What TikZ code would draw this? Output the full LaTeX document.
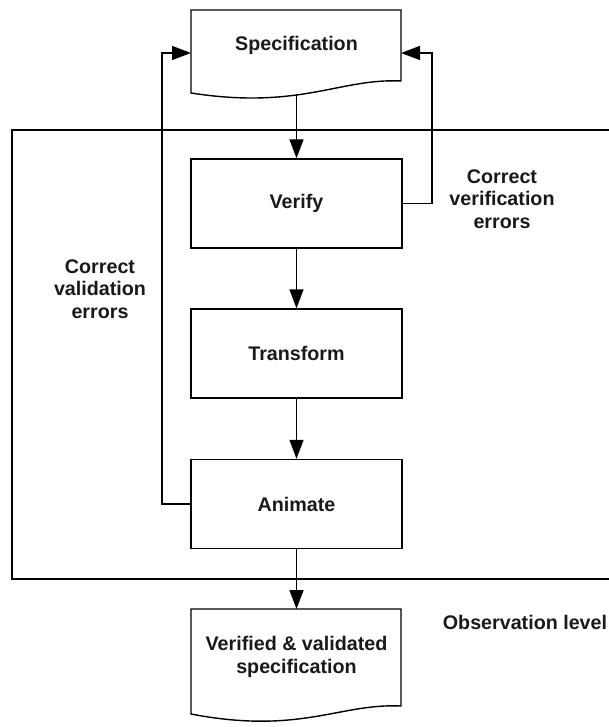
\documentclass[tikz,border=0pt]{standalone}
\usepackage{fontspec}
\setmainfont{Liberation Sans}
\usetikzlibrary{arrows.meta}
\begin{document}
\begin{tikzpicture}[x=1pt,y=-1pt, line width=1.4pt,
  box/.style={draw, minimum width=211pt, minimum height=89pt, inner sep=0pt},
  lbl/.style={font=\bfseries\fontsize{19.7}{22.5}\selectfont, align=center, text=black!90},
  arr/.style={-{Triangle[length=19pt,width=14pt]}},
  ]
\useasboundingbox (0,0) rectangle (609,727);

% outer observation-level frame (open to the right)
\draw (609,130) -- (12,130) -- (12,579) -- (609,579);

% Specification document
\draw[fill=white] (191,10) -- (401,10) -- (401,81)
  .. controls (340,78) and (300,110) .. (191,93) -- cycle;
\node[lbl] (spec) at (296.5,45) {Specification};
\coordinate (specL) at (191,53);
\coordinate (specR) at (401,53);
\coordinate (specB) at (296.5,94);

% process boxes
\node[box,lbl] (verify) at (296.5,203.5) {Verify};
\node[box,lbl] (transform) at (296.5,353.5) {Transform};
\node[box,lbl] (animate) at (296.5,504) {Animate};

% result document
\draw[fill=white] (191,609) -- (401,609) -- (401,706)
  .. controls (340,703) and (300,735) .. (191,714) -- cycle;
\node[lbl] (result) at (296.5,657) {Verified \& validated\\specification};
\coordinate (resultT) at (296.5,609);

% labels
\node[lbl] (verr) at (502,199) {Correct\\verification\\errors};
\node[lbl] (valerr) at (100,289) {Correct\\validation\\errors};
\node[lbl] (obs) at (525,622) {Observation level};

% connectors
\draw[arr] (specB) -- (verify.north);
\draw[arr] (verify.south) -- (transform.north);
\draw[arr] (transform.south) -- (animate.north);
\draw[arr] (animate.south) -- (resultT);
\coordinate (vr) at (432,203.5);
\coordinate (al) at (162,504);
\draw[arr] (verify.east) -- (vr) |- (specR);
\draw[arr] (animate.west) -- (al) |- (specL);
\end{tikzpicture}
\end{document}
